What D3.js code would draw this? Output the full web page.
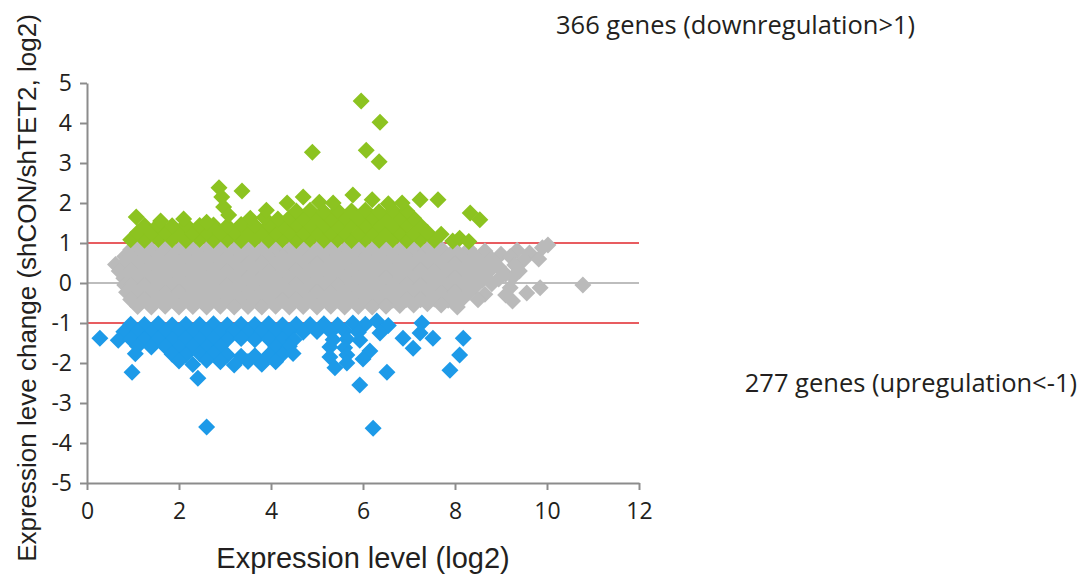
<!DOCTYPE html>
<html>
<head>
<meta charset="utf-8">
<script src="https://cdn.jsdelivr.net/npm/d3@7/dist/d3.min.js"></script>
<style>
  html, body { margin: 0; padding: 0; background: #ffffff; }
  svg { display: block; }
</style>
</head>
<body>
<svg id="chart" width="1092" height="582"></svg>
<script>
// Tick values for both axes
const xTicks = [0, 2, 4, 6, 8, 10, 12];
const yTicks = [5, 4, 3, 2, 1, 0, -1, -2, -3, -4, -5];

// Threshold lines (log2 fold change)
const thresholds = [1, -1];

// Genes with |change| <= 1: [expression level, change]
const unchangedGenes = [
  [0.95,0.83],[1.1,0.85],[1.4,0.84],[1.7,0.86],[2.0,0.83],[2.3,0.85],[2.6,0.84],[2.9,0.86],[3.2,0.83],[3.5,0.85],
  [3.8,0.84],[4.1,0.86],[4.4,0.83],[4.7,0.85],[5.0,0.84],[5.3,0.86],[5.6,0.83],[5.9,0.85],[6.2,0.84],[6.5,0.86],
  [6.8,0.83],[7.1,0.85],[7.4,0.84],[7.7,0.86],[8.0,0.83],[8.3,0.85],[8.65,0.8],[9.0,0.72],[9.35,0.82],[9.62,0.75],
  [9.9,0.88],[10.02,0.95],
  [0.82,0.66],[0.95,0.67],[1.25,0.65],[1.55,0.67],[1.85,0.66],[2.15,0.64],[2.45,0.67],[2.75,0.65],[3.05,0.66],[3.35,0.67],
  [3.65,0.64],[3.95,0.66],[4.25,0.67],[4.55,0.65],[4.85,0.66],[5.15,0.64],[5.45,0.67],[5.75,0.65],[6.05,0.66],[6.35,0.67],
  [6.65,0.64],[6.95,0.66],[7.25,0.67],[7.55,0.65],[7.85,0.66],[8.15,0.64],[8.45,0.66],[8.8,0.6],[9.2,0.66],[9.5,0.58],
  [9.82,0.6],
  [0.62,0.46],[0.8,0.48],[1.1,0.49],[1.4,0.47],[1.7,0.48],[2.0,0.5],[2.3,0.47],[2.6,0.48],[2.9,0.49],[3.2,0.47],
  [3.5,0.48],[3.8,0.5],[4.1,0.47],[4.4,0.48],[4.7,0.49],[5.0,0.47],[5.3,0.48],[5.6,0.5],[5.9,0.47],[6.2,0.48],
  [6.5,0.49],[6.8,0.47],[7.1,0.48],[7.4,0.5],[7.7,0.47],[8.0,0.48],[8.3,0.49],[8.6,0.45],[8.95,0.4],[9.3,0.45],
  [0.7,0.3],[0.95,0.31],[1.25,0.29],[1.55,0.3],[1.85,0.32],[2.15,0.29],[2.45,0.3],[2.75,0.31],[3.05,0.29],[3.35,0.3],
  [3.65,0.32],[3.95,0.29],[4.25,0.3],[4.55,0.31],[4.85,0.29],[5.15,0.3],[5.45,0.32],[5.75,0.29],[6.05,0.3],[6.35,0.31],
  [6.65,0.29],[6.95,0.3],[7.25,0.32],[7.55,0.29],[7.85,0.3],[8.15,0.31],[8.45,0.28],[8.75,0.3],[9.1,0.22],[9.4,0.3],
  [0.8,0.12],[1.1,0.13],[1.4,0.11],[1.7,0.12],[2.0,0.14],[2.3,0.11],[2.6,0.12],[2.9,0.13],[3.2,0.11],[3.5,0.12],
  [3.8,0.14],[4.1,0.11],[4.4,0.12],[4.7,0.13],[5.0,0.11],[5.3,0.12],[5.6,0.14],[5.9,0.11],[6.2,0.12],[6.5,0.13],
  [6.8,0.11],[7.1,0.12],[7.4,0.14],[7.7,0.11],[8.0,0.12],[8.3,0.13],[8.6,0.08],[8.95,0.1],[9.26,0.15],
  [0.82,-0.05],[0.95,-0.06],[1.25,-0.07],[1.55,-0.05],[1.85,-0.06],[2.15,-0.04],[2.45,-0.07],[2.75,-0.05],[3.05,-0.06],[3.35,-0.04],
  [3.65,-0.07],[3.95,-0.05],[4.25,-0.06],[4.55,-0.04],[4.85,-0.07],[5.15,-0.05],[5.45,-0.06],[5.75,-0.04],[6.05,-0.07],[6.35,-0.05],
  [6.65,-0.06],[6.95,-0.04],[7.25,-0.07],[7.55,-0.05],[7.85,-0.06],[8.15,-0.04],[8.45,-0.08],[8.8,-0.02],[9.2,-0.12],[9.85,-0.12],
  [10.78,-0.05],
  [0.86,-0.23],[1.1,-0.24],[1.4,-0.22],[1.7,-0.25],[2.0,-0.23],[2.3,-0.24],[2.6,-0.22],[2.9,-0.25],[3.2,-0.23],[3.5,-0.24],
  [3.8,-0.22],[4.1,-0.25],[4.4,-0.23],[4.7,-0.24],[5.0,-0.22],[5.3,-0.25],[5.6,-0.23],[5.9,-0.24],[6.2,-0.22],[6.5,-0.25],
  [6.8,-0.23],[7.1,-0.24],[7.4,-0.22],[7.7,-0.25],[8.0,-0.23],[8.3,-0.24],[8.65,-0.28],[9.1,-0.3],[9.56,-0.25],
  [0.95,-0.41],[1.25,-0.42],[1.55,-0.4],[1.85,-0.43],[2.15,-0.41],[2.45,-0.42],[2.75,-0.4],[3.05,-0.43],[3.35,-0.41],[3.65,-0.42],
  [3.95,-0.4],[4.25,-0.43],[4.55,-0.41],[4.85,-0.42],[5.15,-0.4],[5.45,-0.43],[5.75,-0.41],[6.05,-0.42],[6.35,-0.4],[6.65,-0.43],
  [6.95,-0.41],[7.25,-0.42],[7.55,-0.4],[7.85,-0.43],[8.15,-0.41],[8.5,-0.42],[9.25,-0.45],
  [1.1,-0.59],[1.4,-0.6],[1.7,-0.58],[2.0,-0.6],[2.3,-0.59],[2.6,-0.6],[2.9,-0.58],[3.2,-0.6],[3.5,-0.59],[3.8,-0.6],
  [4.1,-0.58],[4.4,-0.6],[4.7,-0.59],[5.0,-0.6],[5.3,-0.58],[5.6,-0.6],[5.9,-0.59],[6.2,-0.6],[6.5,-0.58],[6.8,-0.56],
  [7.1,-0.55],[7.4,-0.52],[7.7,-0.55],[8.05,-0.6]
];

// Genes with change > 1 (366 genes)
const downGenes = [
  [0.95,1.08],[1.25,1.07],[1.55,1.09],[1.85,1.08],[2.15,1.06],[2.45,1.09],[2.75,1.07],[3.05,1.08],[3.35,1.06],[3.65,1.09],
  [3.95,1.07],[4.25,1.08],[4.55,1.06],[4.85,1.09],[5.15,1.07],[5.45,1.08],[5.75,1.06],[6.05,1.09],[6.35,1.07],[6.65,1.08],
  [6.95,1.06],[7.25,1.09],[7.55,1.07],[7.95,1.05],[8.1,1.12],[8.3,1.04],
  [1.1,1.26],[1.4,1.25],[1.7,1.27],[2.0,1.26],[2.3,1.24],[2.6,1.27],[2.9,1.25],[3.2,1.26],[3.5,1.24],[3.8,1.27],
  [4.1,1.25],[4.4,1.26],[4.7,1.24],[5.0,1.27],[5.3,1.25],[5.6,1.26],[5.9,1.24],[6.2,1.27],[6.5,1.25],[6.8,1.26],
  [7.1,1.24],[7.4,1.27],[7.7,1.22],
  [1.25,1.44],[1.55,1.45],[1.85,1.43],[2.15,1.46],[2.45,1.44],[2.75,1.45],[3.05,1.43],[3.35,1.46],[3.65,1.44],[3.95,1.45],
  [4.25,1.43],[4.55,1.46],[4.85,1.44],[5.15,1.45],[5.45,1.43],[5.75,1.46],[6.05,1.44],[6.35,1.45],[6.65,1.43],[6.95,1.46],
  [7.25,1.44],
  [1.07,1.65],[1.6,1.55],[2.1,1.6],[2.6,1.52],[2.97,1.9],[3.55,1.62],[3.85,1.64],[4.15,1.6],[4.4,1.63],[4.7,1.62],
  [5.0,1.64],[5.3,1.6],[5.6,1.63],[5.9,1.62],[6.2,1.64],[6.5,1.6],[6.8,1.63],[7.1,1.62],
  [3.08,1.7],[3.9,1.82],[4.55,1.8],[4.85,1.82],[5.15,1.78],[5.45,1.81],[5.75,1.8],[6.05,1.82],[6.35,1.78],[6.65,1.81],
  [6.95,1.8],
  [2.93,2.15],[4.35,2.0],[4.7,2.15],[5.05,2.02],[5.35,2.0],[5.78,2.2],[6.2,2.08],[6.55,1.98],[6.85,2.0],[7.24,2.08],
  [7.63,2.08],
  [2.87,2.38],[3.37,2.3],[4.9,3.27],[5.96,4.55],[6.37,4.02],[6.07,3.32],[6.35,3.03],[8.33,1.75],[8.54,1.58]
];

// Genes with change < -1 (277 genes)
const upGenes = [
  [0.95,-1.03],[1.25,-1.04],[1.55,-1.02],[1.85,-1.05],[2.15,-1.03],[2.45,-1.04],[2.75,-1.02],[3.05,-1.05],[3.35,-1.03],[3.65,-1.04],
  [3.95,-1.02],[4.25,-1.05],[4.55,-1.03],[4.85,-1.04],[5.15,-1.02],[5.45,-1.05],[5.78,-1.0],[6.05,-1.03],[6.3,-0.95],[6.55,-1.06],
  [7.28,-1.0],
  [0.8,-1.22],[1.1,-1.21],[1.4,-1.23],[1.7,-1.22],[2.0,-1.2],[2.3,-1.23],[2.6,-1.21],[2.9,-1.22],[3.2,-1.2],[3.5,-1.23],
  [3.8,-1.21],[4.1,-1.22],[4.4,-1.2],[4.7,-1.23],[5.0,-1.21],[5.3,-1.22],[5.6,-1.2],[5.9,-1.23],[6.37,-1.25],[7.24,-1.25],
  [0.28,-1.38],[0.68,-1.43],[0.95,-1.4],[1.25,-1.42],[1.55,-1.4],[1.85,-1.41],[2.15,-1.39],[2.45,-1.42],[2.75,-1.4],[3.05,-1.41],
  [3.35,-1.39],[3.65,-1.42],[3.95,-1.4],[4.25,-1.41],[4.5,-1.42],[5.35,-1.42],[5.65,-1.4],[5.93,-1.43],[6.87,-1.38],[7.52,-1.38],
  [8.18,-1.38],
  [1.1,-1.58],[1.4,-1.6],[1.7,-1.59],[2.0,-1.61],[2.3,-1.58],[2.6,-1.6],[2.9,-1.59],[4.1,-1.6],[4.4,-1.58],[5.28,-1.6],
  [5.6,-1.62],[6.15,-1.7],[7.09,-1.63],
  [1.05,-1.77],[1.85,-1.78],[2.15,-1.8],[2.45,-1.77],[2.75,-1.76],[3.05,-1.8],[3.35,-1.83],[3.65,-1.82],[3.95,-1.8],[4.25,-1.78],
  [4.48,-1.76],[5.28,-1.85],[5.65,-1.8],[8.1,-1.8],
  [2.0,-1.95],[2.3,-2.04],[2.6,-1.93],[2.9,-1.97],[3.2,-2.05],[3.5,-1.96],[3.8,-2.03],[4.1,-1.97],[5.39,-2.12],[5.65,-2.0],
  [6.0,-1.9],
  [0.98,-2.23],[2.41,-2.38],[6.52,-2.23],[7.89,-2.18],[2.6,-3.6],[5.93,-2.55],[6.22,-3.63]
];

const downLabel = "366 genes (downregulation>1)";
const upLabel = "277 genes (upregulation<-1)";

const svg = d3.select("#chart");
const plot = { left: 87, right: 639, top: 83, bottom: 483 };

const x = d3.scaleLinear().domain([0, 12]).range([plot.left, plot.right]);
const y = d3.scaleLinear().domain([-5, 5]).range([plot.bottom, plot.top]);

const tickFont = "'Open Sans', 'Noto Sans', sans-serif";
const titleFont = "'Liberation Sans', Arial, sans-serif";
const axisGray = "#8c8c8c";

// Zero line and ±1 threshold lines, beneath the points
svg.append("line")
  .attr("x1", x(0)).attr("x2", x(12))
  .attr("y1", y(0)).attr("y2", y(0))
  .attr("stroke", "#bdbdbd").attr("stroke-width", 2);

svg.selectAll("line.threshold")
  .data(thresholds)
  .join("line")
  .attr("class", "threshold")
  .attr("x1", x(0)).attr("x2", x(12))
  .attr("y1", d => y(d)).attr("y2", d => y(d))
  .attr("stroke", "#e0262b").attr("stroke-width", 1.6);

// Diamond markers: a square rotated by 45 degrees
const half = 8.5;
const diamond = d3.symbol().type(d3.symbolSquare).size(2 * half * half)();

function drawGenes(data, color) {
  svg.append("g")
    .selectAll("path")
    .data(data)
    .join("path")
    .attr("d", diamond)
    .attr("transform", d => `translate(${x(d[0])},${y(d[1])}) rotate(45)`)
    .attr("fill", color);
}

drawGenes(unchangedGenes, "#bababa");
drawGenes(downGenes, "#8cc320");
drawGenes(upGenes, "#1d9ae8");

// Axes
const yAxis = d3.axisLeft(y).tickValues(yTicks).tickSize(7).tickSizeOuter(0).tickPadding(8)
  .tickFormat(d3.format("d"));
const xAxis = d3.axisBottom(x).tickValues(xTicks).tickSize(7).tickSizeOuter(0).tickPadding(13)
  .tickFormat(d3.format("d"));

const gy = svg.append("g").attr("transform", `translate(${plot.left},0)`).call(yAxis);
const gx = svg.append("g").attr("transform", `translate(0,${plot.bottom})`).call(xAxis);

[gx, gy].forEach(g => {
  g.select(".domain").attr("stroke", axisGray).attr("stroke-width", 2);
  g.selectAll(".tick line").attr("stroke", axisGray).attr("stroke-width", 2);
  g.selectAll(".tick text")
    .attr("fill", "#231f20")
    .style("font-family", tickFont)
    .style("font-size", "23px");
});
gy.selectAll(".tick text").text(d => d < 0 ? "-" + Math.abs(d) : d);

// Axis titles
svg.append("text")
  .attr("x", (plot.left + plot.right) / 2)
  .attr("y", 568)
  .attr("text-anchor", "middle")
  .style("font-family", titleFont)
  .style("font-size", "29px")
  .attr("fill", "#231f20")
  .text("Expression level (log2)");

svg.append("text")
  .attr("transform", "translate(36,288) rotate(-90)")
  .attr("text-anchor", "middle")
  .style("font-family", titleFont)
  .style("font-size", "26px")
  .attr("fill", "#231f20")
  .text("Expression leve change (shCON/shTET2, log2)");

// Gene count annotations
svg.append("text")
  .attr("x", 556).attr("y", 34)
  .style("font-family", tickFont)
  .style("font-size", "25.5px")
  .attr("fill", "#231f20")
  .text(downLabel);

svg.append("text")
  .attr("x", 1077).attr("y", 392)
  .attr("text-anchor", "end")
  .style("font-family", tickFont)
  .style("font-size", "25.5px")
  .attr("fill", "#231f20")
  .text(upLabel);
</script>
</body>
</html>
